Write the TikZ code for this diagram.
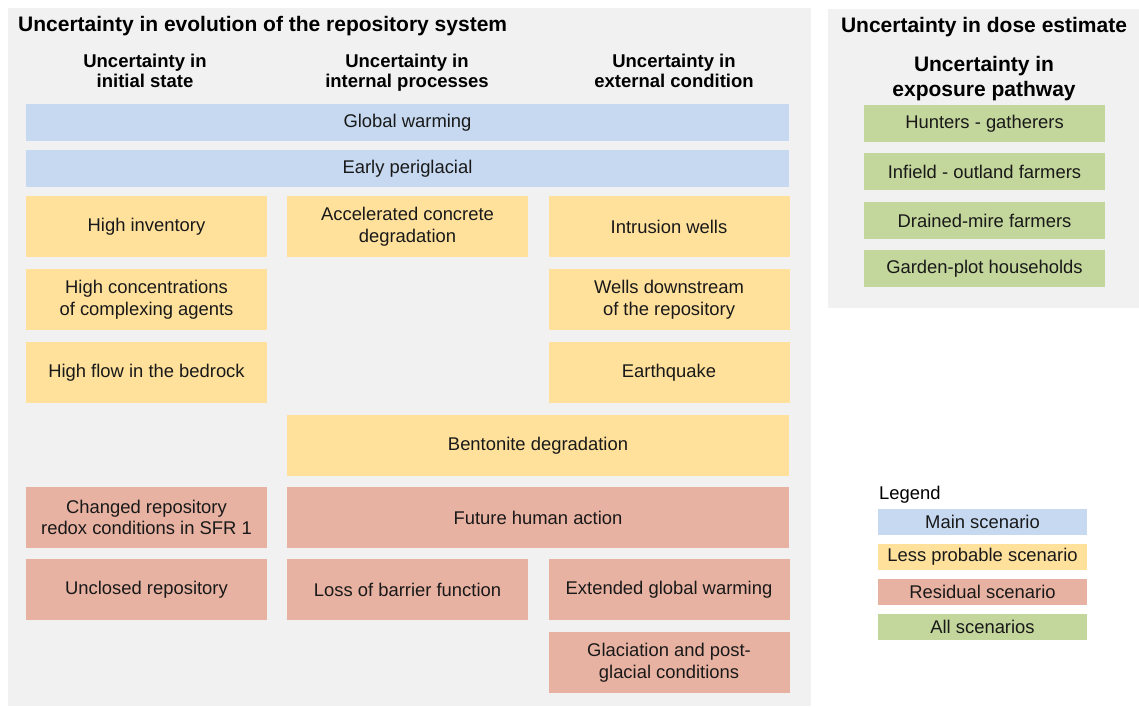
\documentclass[tikz,border=0pt]{standalone}
\usepackage{fontspec}
\setmainfont{Liberation Sans}
\definecolor{panelgray}{HTML}{F1F1F1}
\definecolor{mainblue}{HTML}{C6D9F1}
\definecolor{lessyellow}{HTML}{FFE19C}
\definecolor{residred}{HTML}{E8B2A2}
\definecolor{allgreen}{HTML}{C3D69B}
\begin{document}
\begin{tikzpicture}[x=1pt,y=-1pt,
  panel/.style={fill=panelgray,draw=none},
  cellbox/.style={draw=none,inner sep=0pt,align=center,text=black!90,
    font=\fontsize{18.4}{21.5}\selectfont},
  bluebox/.style={cellbox,fill=mainblue},
  yellowbox/.style={cellbox,fill=lessyellow},
  redbox/.style={cellbox,fill=residred},
  greenbox/.style={cellbox,fill=allgreen},
  one/.style={minimum width=241pt},
  full/.style={minimum width=763pt},
  two/.style={minimum width=502pt},
  short/.style={minimum height=37pt},
  tall/.style={minimum height=61pt},
  legendbox/.style={minimum width=209pt,minimum height=26pt},
  title/.style={inner sep=0pt,font=\bfseries\fontsize{21}{24}\selectfont},
  colhead/.style={inner sep=0pt,align=center,font=\bfseries\fontsize{18.5}{20.5}\selectfont},
  righthead/.style={inner sep=0pt,align=center,font=\bfseries\fontsize{21}{24.5}\selectfont},
  plain/.style={inner sep=0pt,font=\fontsize{18.4}{21.5}\selectfont}
]
\useasboundingbox (0,0) rectangle (1139,706);
\fill[white] (0,0) rectangle (1139,706);
% panels
\path[panel] (8,8) rectangle (811,706);
\path[panel] (828,9) rectangle (1139,308);

% headings
\node[title,anchor=base west] (t1) at (18,32) {Uncertainty in evolution of the repository system};
\node[colhead,anchor=base] (h1) at (145,88) {Uncertainty in\\initial state};
\node[colhead,anchor=base] (h2) at (407,88) {Uncertainty in\\internal processes};
\node[colhead,anchor=base] (h3) at (674,88) {Uncertainty in\\external condition};
\node[title,anchor=base] (t2) at (984,33) {Uncertainty in dose estimate};
\node[righthead,anchor=base] (h4) at (984,96) {Uncertainty in\\exposure pathway};

% left panel boxes
\node[bluebox,full,short] (gw) at (407.5,122.5) {Global warming};
\node[bluebox,full,short] (ep) at (407.5,168.5) {Early periglacial};
\node[yellowbox,one,tall] (hi) at (146.5,226.5) {High inventory};
\node[yellowbox,one,tall] (acd) at (407.5,226.5) {Accelerated concrete\\degradation};
\node[yellowbox,one,tall] (iw) at (669,226.5) {Intrusion wells};
\node[yellowbox,one,tall] (hc) at (146.5,299.5) {High concentrations\\of complexing agents};
\node[yellowbox,one,tall] (wd) at (669,299.5) {Wells downstream\\of the repository};
\node[yellowbox,one,tall] (hf) at (146.5,372.5) {High flow in the bedrock};
\node[yellowbox,one,tall] (eq) at (669,372.5) {Earthquake};
\node[yellowbox,two,tall] (bd) at (538,445.5) {Bentonite degradation};
\node[redbox,one,tall] (cr) at (146.5,517.5) {Changed repository\\redox conditions in SFR 1};
\node[redbox,two,tall] (fh) at (538,517.5) {Future human action};
\node[redbox,one,tall] (ur) at (146.5,589.5) {Unclosed repository};
\node[redbox,one,tall] (lb) at (407.5,589.5) {Loss of barrier function};
\node[redbox,one,tall] (eg) at (669,589.5) {Extended global warming};
\node[redbox,one,tall] (gp) at (669,662.5) {Glaciation and post-\\glacial conditions};

% right panel boxes
\node[greenbox,one,short] (hg) at (984.5,123.5) {Hunters - gatherers};
\node[greenbox,one,short] (io) at (984.5,171.5) {Infield - outland farmers};
\node[greenbox,one,short] (dm) at (984.5,220.5) {Drained-mire farmers};
\node[greenbox,one,short] (gh) at (984.5,268.5) {Garden-plot households};

% legend
\node[plain,anchor=base west] (lg) at (879,499) {Legend};
\node[bluebox,legendbox] (l1) at (982.5,522) {Main scenario};
\node[yellowbox,legendbox] (l2) at (982.5,557) {Less probable scenario};
\node[redbox,legendbox] (l3) at (982.5,592) {Residual scenario};
\node[greenbox,legendbox] (l4) at (982.5,627) {All scenarios};
\end{tikzpicture}
\end{document}
